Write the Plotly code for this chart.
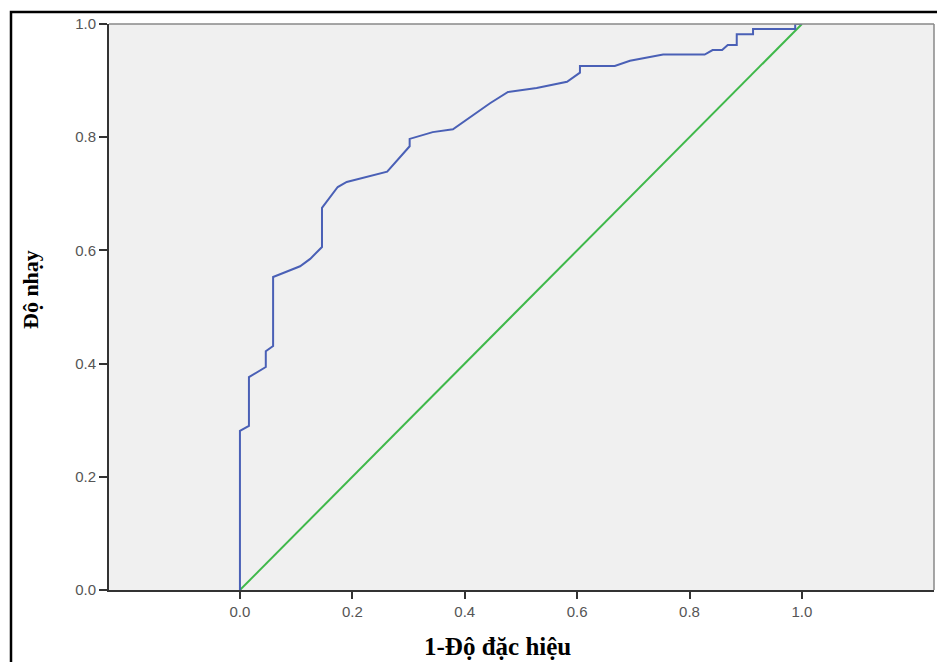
import plotly.graph_objects as go

# ROC curve
fpr = [0.0, 0.0, 0.016, 0.016, 0.046, 0.046, 0.059, 0.059, 0.077, 0.107, 0.125, 0.146,
       0.146, 0.160, 0.174, 0.190, 0.262, 0.302, 0.302, 0.343, 0.379, 0.445, 0.477,
       0.528, 0.582, 0.605, 0.605, 0.667, 0.694, 0.753, 0.827, 0.841, 0.858, 0.868,
       0.884, 0.884, 0.913, 0.913, 0.988, 0.988, 1.0]
tpr = [0.0, 0.281, 0.290, 0.376, 0.394, 0.422, 0.431, 0.553, 0.560, 0.572, 0.585, 0.606,
       0.675, 0.694, 0.712, 0.721, 0.739, 0.784, 0.797, 0.809, 0.814, 0.860, 0.880,
       0.887, 0.898, 0.914, 0.926, 0.926, 0.935, 0.946, 0.946, 0.954, 0.954, 0.963,
       0.963, 0.982, 0.982, 0.991, 0.991, 1.0, 1.0]
ref_x = [0.0, 1.0]
ref_y = [0.0, 1.0]
tick_vals = [0.0, 0.2, 0.4, 0.6, 0.8, 1.0]
tick_text = ["0.0", "0.2", "0.4", "0.6", "0.8", "1.0"]

W, H = 937, 662
L, R, T, B = 109, 3, 24, 72
pw, ph = W - L - R, H - T - B

def px(x):
    return (x - L) / pw

def py(y):
    return (H - B - y) / ph

fig = go.Figure()
fig.add_trace(go.Scatter(x=ref_x, y=ref_y, mode="lines",
                         line=dict(color="#3fb84a", width=2), hoverinfo="skip"))
fig.add_trace(go.Scatter(x=fpr, y=tpr, mode="lines",
                         line=dict(color="#4a60b6", width=2), hoverinfo="skip"))

tickfont = dict(family="Liberation Sans, Arial", size=15, color="#555555")
fig.update_layout(
    width=W, height=H,
    margin=dict(l=L, r=R, t=T, b=B),
    paper_bgcolor="white", plot_bgcolor="#f0f0f0",
    showlegend=False,
    xaxis=dict(range=[-0.233, 1.235], tickvals=tick_vals, ticktext=tick_text,
               showgrid=False, zeroline=False, showline=True, linecolor="#333333",
               linewidth=2, ticks="outside", ticklen=7, tickwidth=2, tickcolor="#333333",
               tickfont=tickfont),
    yaxis=dict(range=[0, 1], tickvals=tick_vals, ticktext=tick_text,
               showgrid=False, zeroline=False, showline=True, linecolor="#333333",
               linewidth=2, ticks="outside", ticklen=8, tickwidth=2, tickcolor="#333333",
               tickfont=tickfont),
    shapes=[
        dict(type="line", xref="paper", yref="paper", x0=0, x1=1, y0=1, y1=1,
             line=dict(color="#888888", width=1.5), layer="above"),
        dict(type="line", xref="paper", yref="paper", x0=1, x1=1, y0=0, y1=1,
             line=dict(color="#888888", width=1.5), layer="above"),
        dict(type="rect", xref="paper", yref="paper",
             x0=px(11), x1=px(945), y0=py(680), y1=py(12),
             line=dict(color="black", width=2.5), layer="above"),
    ],
    annotations=[
        dict(text="<b>1-Độ đặc hiệu</b>", xref="paper", yref="paper",
             x=px(497), y=py(646), xanchor="center", yanchor="middle", showarrow=False,
             font=dict(family="Liberation Serif, Times New Roman", size=25, color="black")),
        dict(text="<b>Độ nhạy</b>", xref="paper", yref="paper", textangle=-90,
             x=px(30), y=py(290), xanchor="center", yanchor="middle", showarrow=False,
             font=dict(family="Liberation Serif, Times New Roman", size=22, color="black")),
    ],
)
fig.write_html("out.html", config={"displayModeBar": False},
               post_script="document.body.style.margin='0';document.body.style.overflow='hidden';")
